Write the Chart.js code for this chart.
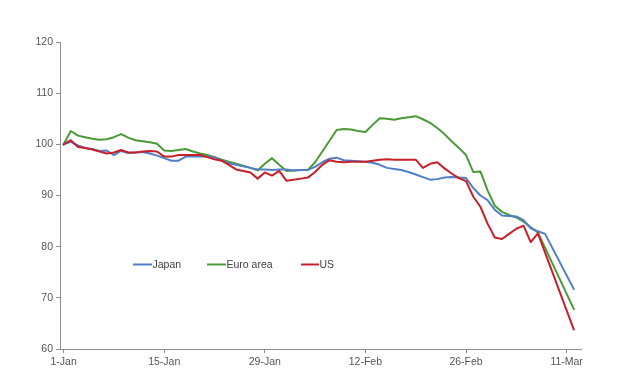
<!DOCTYPE html>
<html>
<head>
<meta charset="utf-8">
<script src="https://cdn.jsdelivr.net/npm/chart.js@4.4.1/dist/chart.umd.min.js"></script>
<style>
  html, body { margin: 0; padding: 0; background: #ffffff; }
  #wrap { width: 623px; height: 387px; position: relative; }
</style>
</head>
<body>
<div id="wrap"><canvas id="c" width="623" height="387"></canvas></div>
<script>
// Day offsets from 1-Jan (2020)
const days = [0,1,2,3,4,5,6,7,8,9,10,11,12,13,14,15,16,17,18,19,20,21,22,23,24,25,26,27,28,29,
  30,31,32,33,34,35,36,37,38,39,40,41,42,43,44,45,46,47,48,49,50,51,52,53,54,55,56,57,58,59,
  60,61,62,63,64,65,66,67,71];

const japan = [
  100, 100.5, 99.8, 99.3, 99.1, 98.7, 98.8, 97.9, 98.7, 98.3,
  98.4, 98.5, 98.2, 97.8, 97.3, 96.8, 96.8, 97.6, 97.6, 97.6,
  97.6, 97.5, 96.8, 96.3, 96.0, 95.7, 95.4, 95.1, 95.1, 95.0,
  95.1, 95.1, 94.9, 95.0, 95.0, 95.6, 96.5, 97.2, 97.4, 96.9,
  96.8, 96.7, 96.6, 96.4, 96.0, 95.4, 95.2, 95.0, 94.6, 94.1,
  93.6, 93.1, 93.2, 93.5, 93.6, 93.5, 93.4, 91.5, 90.0, 89.1,
  87.2, 86.1, 86.0, 85.9, 85.2, 83.6, 83.0, 82.5, 71.7
];

const euroArea = [
  100, 102.6, 101.7, 101.4, 101.1, 100.9, 101.0, 101.4, 102.0, 101.3,
  100.8, 100.6, 100.4, 100.1, 98.8, 98.7, 98.9, 99.1, 98.6, 98.2,
  97.9, 97.5, 97.0, 96.6, 96.2, 95.8, 95.4, 94.9, 96.2, 97.3,
  96.0, 94.8, 94.9, 95.0, 95.0, 96.5, 98.6, 100.7, 102.8, 103.0,
  102.9, 102.6, 102.4, 103.8, 105.1, 105.0, 104.8, 105.1, 105.3, 105.5,
  104.9, 104.2, 103.2, 102.0, 100.6, 99.3, 97.9, 94.6, 94.7, 91.0,
  88.0, 86.8, 86.2, 85.7, 84.9, 83.8, 82.8, null, 67.8
];

const us = [
  100, 100.8, 99.5, 99.3, 99.0, 98.6, 98.2, 98.4, 98.9, 98.4,
  98.4, 98.6, 98.7, 98.6, 97.6, 97.6, 97.9, 97.9, 97.9, 97.9,
  97.5, 97.1, 96.8, 96.0, 95.1, 94.8, 94.5, 93.3, 94.5, 93.9,
  94.8, 92.9, 93.1, 93.3, 93.5, 94.6, 96.0, 96.9, 96.6, 96.5,
  96.6, 96.6, 96.6, 96.8, 97.0, 97.1, 97.0, 97.0, 97.0, 97.0,
  95.4, 96.2, 96.5, 95.3, 94.3, 93.4, 92.8, 89.8, 87.8, 84.5,
  81.8, 81.5, 82.5, 83.5, 84.1, 80.9, 82.6, null, 63.8
];

const seriesNames = ['Japan', 'Euro area', 'US'];
const tickDays = [0, 14, 28, 42, 56, 70];
const tickLabels = ['1-Jan', '15-Jan', '29-Jan', '12-Feb', '26-Feb', '11-Mar'];
const yTicks = [60, 70, 80, 90, 100, 110, 120];

const colors = ['#4f7fc6', '#4a9a38', '#c8202b'];
const FONT = { family: '"Liberation Sans", Arial, sans-serif', size: 10.5 };
const AXIS = '#8e8e8e';

function pts(vals) { return days.map((d, i) => ({ x: d, y: vals[i] })); }

const legendPlugin = {
  id: 'insideLegend',
  afterDatasetsDraw(chart) {
    const ctx = chart.ctx;
    const items = [
      { lx: 133, lw: 19 },
      { lx: 207, lw: 19 },
      { lx: 301, lw: 18 }
    ];
    const y = 264.5;
    ctx.save();
    ctx.font = '10.5px "Liberation Sans", Arial, sans-serif';
    ctx.textBaseline = 'middle';
    ctx.textAlign = 'left';
    chart.data.datasets.forEach((ds, i) => {
      const it = items[i];
      ctx.strokeStyle = ds.borderColor;
      ctx.lineWidth = 2;
      ctx.beginPath();
      ctx.moveTo(it.lx, y);
      ctx.lineTo(it.lx + it.lw, y);
      ctx.stroke();
      ctx.fillStyle = '#404040';
      ctx.fillText(ds.label, it.lx + it.lw + 0.5, y + 0.5);
    });
    ctx.restore();
  }
};

new Chart(document.getElementById('c'), {
  type: 'line',
  data: {
    datasets: [
      { label: seriesNames[0], data: pts(japan), borderColor: colors[0], order: 1 },
      { label: seriesNames[1], data: pts(euroArea), borderColor: colors[1], order: 2 },
      { label: seriesNames[2], data: pts(us), borderColor: colors[2], order: 0 }
    ].map(d => Object.assign(d, {
      borderWidth: 2, pointRadius: 0, tension: 0, spanGaps: true, fill: false,
      borderJoinStyle: 'round', borderCapStyle: 'round'
    }))
  },
  options: {
    responsive: false,
    animation: false,
    devicePixelRatio: 1,
    layout: { padding: { top: 42, right: 42, left: 0, bottom: 0 } },
    plugins: { legend: { display: false }, tooltip: { enabled: false } },
    scales: {
      x: {
        type: 'linear',
        min: -0.5,
        max: 72,
        afterBuildTicks: axis => { axis.ticks = tickDays.map(v => ({ value: v })); },
        afterFit: axis => { axis.height = 38; },
        grid: { display: true, drawOnChartArea: false, drawTicks: true, tickLength: 4, color: AXIS },
        border: { display: true, color: AXIS, width: 1 },
        ticks: {
          autoSkip: false, maxRotation: 0, padding: 3, color: '#555555', font: FONT,
          callback: v => { const k = tickDays.indexOf(v); return k >= 0 ? tickLabels[k] : ''; }
        }
      },
      y: {
        min: 60,
        max: 120,
        afterBuildTicks: axis => { axis.ticks = yTicks.map(v => ({ value: v })); },
        afterFit: axis => { axis.width = 60; },
        grid: { display: true, drawOnChartArea: false, drawTicks: true, tickLength: 4, color: AXIS },
        border: { display: true, color: AXIS, width: 1 },
        ticks: { padding: 3, color: '#555555', font: FONT }
      }
    }
  },
  plugins: [legendPlugin]
});
</script>
</body>
</html>
